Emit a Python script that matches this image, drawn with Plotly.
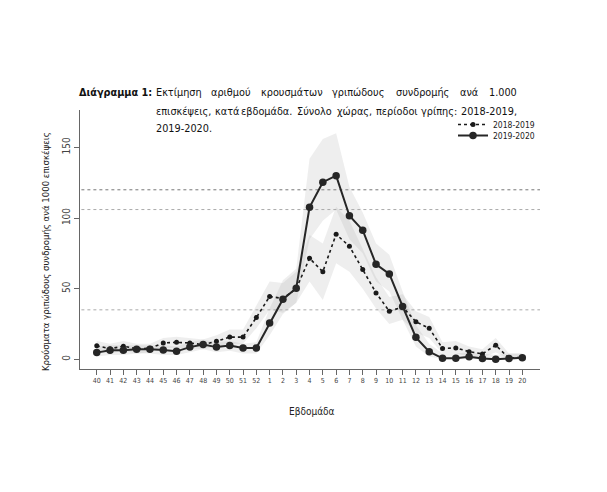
import plotly.graph_objects as go
import unicodedata

# ---------------- data ----------------
weeks = ["40", "41", "42", "43", "44", "45", "46", "47", "48", "49", "50", "51", "52",
         "1", "2", "3", "4", "5", "6", "7", "8", "9", "10", "11", "12", "13", "14",
         "15", "16", "17", "18", "19", "20"]

season_1819 = [9.5, 7.5, 9.2, 7.5, 7.8, 11.5, 12, 11.5, 10.4, 12.7, 15.7, 15.7, 29.5,
               44.5, 43, 50, 71.5, 62, 88.5, 80, 63.5, 47, 34, 37, 26.5, 22, 7.7,
               8, 5.4, 3.8, 10, 0.7, 1.4]
low_1819 = [6, 4, 6, 4, 5, 8, 8, 8, 7, 9, 11, 11, 22,
            35, 33, 40, 55, 42, 68, 62, 50, 36, 25, 28, 19, 15, 4,
            4, 2, 1, 5, 0, 0]
high_1819 = [13, 11, 13, 11, 11, 15, 16, 15, 14, 17, 21, 21, 38,
             55, 54, 62, 88, 82, 108, 98, 78, 58, 44, 46, 34, 30, 12,
             13, 9, 7, 15, 4, 4]

season_1920 = [4.7, 6.3, 6.3, 7, 7, 6.6, 5.6, 8.6, 10.5, 8.6, 9.8, 7.9, 7.9,
               25.7, 42.5, 50.3, 107.6, 125.4, 130, 101.6, 91.4, 67.2, 60.4, 37.4, 15.5, 5.4, 0.7,
               0.7, 1.8, 0.5, 0, 0.5, 1]
low_1920 = [2, 3, 3, 4, 4, 3, 3, 5, 7, 5, 6, 4, 4,
            17, 32, 40, 85, 98, 106, 85, 75, 55, 48, 28, 9, 2, 0,
            0, 0, 0, 0, 0, 0]
high_1920 = [9, 10, 10, 10, 10, 10, 9, 12, 14, 12, 13, 11, 12,
             36, 56, 64, 142, 156, 160, 122, 104, 82, 74, 48, 24, 11, 4,
             4, 5, 4, 3, 4, 4]

thresholds = [120, 106, 35]
threshold_colors = ["#777777", "#aaaaaa", "#aaaaaa"]

yticks = [0, 50, 100, 150]

title_bold = "Διάγραμμα 1:"
title_line1 = "Εκτίμηση αριθμού κρουσμάτων γριπώδους συνδρομής ανά 1.000"
title_line2 = "επισκέψεις, κατά εβδομάδα. Σύνολο χώρας, περίοδοι γρίπης: 2018-2019,"
title_line3 = "2019-2020."
ytitle = "Κρούσματα γριπώδους συνδρομής ανά 1000 επισκέψεις"
xtitle = "Εβδομάδα"

# ---------------- figure ----------------
FONT = "DejaVu Sans Condensed, Liberation Sans Narrow, Arial Narrow, sans-serif"
TITLE_SIZE = 10.8
WIDTH_FACTOR = 1.0
idx = list(range(len(weeks)))

# approximate glyph advance widths (em, Arial-like)
_W = {"α": .578, "β": .575, "γ": .5, "δ": .556, "ε": .446, "ζ": .44, "η": .556, "θ": .556,
      "ι": .222, "κ": .5, "λ": .5, "μ": .576, "ν": .5, "ξ": .449, "ο": .556, "π": .69,
      "ρ": .568, "σ": .617, "ς": .482, "τ": .395, "υ": .547, "φ": .647, "χ": .524,
      "ψ": .713, "ω": .781, ".": .278, ",": .278, ":": .278, "-": .333}


def text_width(s, size):
    w = 0
    for ch in s:
        base = unicodedata.normalize("NFD", ch)[0]
        if base.isdigit():
            w += .556
        elif base.isupper():
            w += .68
        else:
            w += _W.get(base.lower(), .55)
    return w * WIDTH_FACTOR * size


fig = go.Figure()

for lo, hi in [(low_1819, high_1819), (low_1920, high_1920)]:
    fig.add_trace(go.Scatter(
        x=idx + idx[::-1], y=hi + lo[::-1], fill="toself",
        fillcolor="rgba(170,170,170,0.2)", line=dict(width=0),
        hoverinfo="skip", showlegend=False))

fig.add_trace(go.Scatter(
    x=idx, y=season_1819, mode="lines+markers", name="2018-2019",
    line=dict(color="#1a1a1a", width=1.6, dash="dot"),
    marker=dict(color="#1a1a1a", size=5), legend="legend"))
fig.add_trace(go.Scatter(
    x=idx, y=season_1920, mode="lines+markers", name="2019-2020",
    line=dict(color="#262626", width=2),
    marker=dict(color="#262626", size=7.5), legend="legend2"))

for t, c in zip(thresholds, threshold_colors):
    fig.add_shape(type="line", xref="paper", x0=0.003, x1=1, yref="y", y0=t, y1=t,
                  line=dict(color=c, width=1, dash="dot"), layer="below")

L, R, T, B = 80, 67, 110, 123
PW, PH = 607 - L - R, 492 - T - B


def px(xp):
    return (xp - L) / PW


def py(yp):
    return (492 - B - yp) / PH


ann = []
ann.append(dict(text="<b>" + title_bold + "</b>", x=px(77), y=py(93), xref="paper", yref="paper",
                xanchor="left", yanchor="middle", showarrow=False,
                font=dict(family=FONT, size=TITLE_SIZE, color="#111")))


def justify(line, x0, x1, yy, full=True):
    words = line.split(" ")
    widths = [text_width(w, TITLE_SIZE) for w in words]
    if full and len(words) > 1:
        gap = (x1 - x0 - sum(widths)) / (len(words) - 1)
    else:
        gap = text_width(" ", TITLE_SIZE) + 3
    x = x0
    for w, wd in zip(words, widths):
        ann.append(dict(text=w, x=px(x), y=py(yy), xref="paper", yref="paper",
                        xanchor="left", yanchor="middle", showarrow=False,
                        font=dict(family=FONT, size=TITLE_SIZE, color="#111")))
        x += wd + gap


justify(title_line1, 154, 514, 93)
justify(title_line2, 154, 514, 111)
justify(title_line3, 154, 514, 128, full=False)

ann.append(dict(text=ytitle, x=px(45), y=py(252), xref="paper", yref="paper", textangle=-90,
                showarrow=False, xanchor="center", yanchor="middle",
                font=dict(family=FONT, size=9.5, color="#222")))
ann.append(dict(text=xtitle, x=px(312), y=py(411), xref="paper", yref="paper",
                showarrow=False, xanchor="center", yanchor="middle",
                font=dict(family=FONT, size=10, color="#222")))

fig.update_layout(
    width=607, height=492,
    margin=dict(l=L, r=R, t=T, b=B),
    paper_bgcolor="white", plot_bgcolor="white",
    annotations=ann,
    legend=dict(x=px(453), y=py(110), xanchor="left", yanchor="top",
                font=dict(family=FONT, size=8.5, color="#222"), bgcolor="rgba(0,0,0,0)",
                itemwidth=30, tracegroupgap=0),
    legend2=dict(x=px(453), y=py(121), xanchor="left", yanchor="top",
                 font=dict(family=FONT, size=8.5, color="#222"), bgcolor="rgba(0,0,0,0)",
                 itemwidth=30, tracegroupgap=0),
    xaxis=dict(range=[-1.26, 33.33], tickmode="array", tickvals=idx, ticktext=weeks,
               showgrid=False, zeroline=False, showline=True, linecolor="#666", linewidth=1,
               ticks="outside", ticklen=5, tickcolor="#666", tickangle=0,
               tickfont=dict(family=FONT, size=7, color="#444")),
    yaxis=dict(range=[-6.9, 176.5], tickmode="array", tickvals=yticks,
               showgrid=False, zeroline=False, showline=True, linecolor="#666", linewidth=1,
               ticks="outside", ticklen=5, tickcolor="#666", tickangle=-90,
               tickfont=dict(family=FONT, size=10, color="#444")),
)

fig.write_html("out.html")
